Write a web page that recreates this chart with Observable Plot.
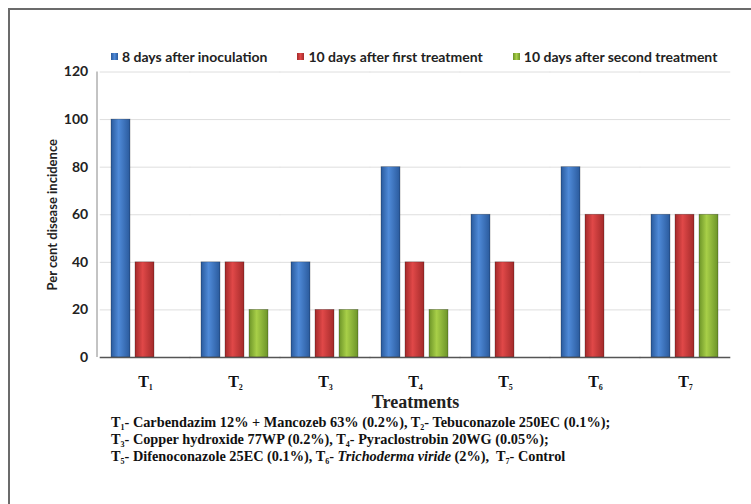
<!DOCTYPE html>
<html>
<head>
<meta charset="utf-8">
<script src="https://cdn.jsdelivr.net/npm/d3@7"></script>
<script src="https://cdn.jsdelivr.net/npm/@observablehq/plot@0.6"></script>
<style>
  body { margin: 0; width: 751px; height: 504px; overflow: hidden; background: #fff; position: relative; }
  #frame { position: absolute; left: 8px; top: 8px; width: 800px; height: 600px; border: 2px solid #6b6b6b; box-sizing: border-box; }
  #legend { position: absolute; left: 111px; top: 48px; display: flex; gap: 30px; font: bold 14px Lato, sans-serif; color: #222; white-space: nowrap; }
  #legend .item { display: flex; align-items: center; }
  #legend .sw { width: 7px; height: 7px; margin-right: 4px; }
  #chart { position: absolute; left: 0; top: 60px; }
  #caption { position: absolute; left: 111px; top: 414px; font: bold 14.3px/17px "Liberation Serif", "Times New Roman", serif; color: #111; white-space: nowrap; }
  #caption sub { font-size: 8px; vertical-align: -3px; line-height: 0; }
</style>
</head>
<body>
<div id="frame"></div>
<div id="legend"></div>
<div id="chart"></div>
<div id="caption"></div>
<script>
// Treatments and the three observation times
const treatments = ["T1", "T2", "T3", "T4", "T5", "T6", "T7"];
const series = [
  "8 days after inoculation",
  "10 days after first treatment",
  "10 days after second treatment"
];

// Per cent disease incidence for each treatment
const afterInoculation = [100, 40, 40, 80, 60, 80, 60];
const afterFirstTreatment = [40, 40, 20, 40, 40, 60, 60];
const afterSecondTreatment = [0, 20, 20, 20, 0, 0, 60];

const yTicks = [0, 20, 40, 60, 80, 100, 120];
const yTitle = "Per cent disease incidence";
const xTitle = "Treatments";

// Treatment key printed under the chart
const captionLines = [
  [["T", "1"], "- Carbendazim 12% + Mancozeb 63% (0.2%), ", ["T", "2"], "- Tebuconazole 250EC (0.1%);"],
  [["T", "3"], "- Copper hydroxide 77WP (0.2%), ", ["T", "4"], "- Pyraclostrobin 20WG (0.05%);"],
  [["T", "5"], "- Difenoconazole 25EC (0.1%), ", ["T", "6"], "- ", {i: "Trichoderma viride"}, " (2%),\u00a0 ", ["T", "7"], "- Control"]
];

// Shaded fills: [edge, centre] per series
const shades = [
  ["#2a5a9c", "#4f8ad8"],
  ["#a32a2a", "#e04848"],
  ["#6c9428", "#a8cf48"]
];
const gradientIds = ["fill-blue", "fill-red", "fill-green"];

const values = [afterInoculation, afterFirstTreatment, afterSecondTreatment];
const rows = treatments.flatMap((t, i) =>
  series.map((s, j) => ({treatment: t, series: s, value: values[j][i]}))
);

const width = 751, marginLeft = 97, marginRight = 18;
const fxPadding = 0.2266;
const halfGap = ((width - marginLeft - marginRight) / treatments.length) * fxPadding / 2;

const plot = Plot.plot({
  width,
  height: 350,
  marginLeft,
  marginRight,
  marginTop: 11.5,
  marginBottom: 53,
  style: {background: "transparent", overflow: "visible"},
  fx: {domain: treatments, paddingInner: fxPadding, paddingOuter: fxPadding / 2},
  x: {domain: series, axis: null, paddingInner: 0.19, paddingOuter: 0},
  y: {domain: [0, 120]},
  color: {domain: series, range: gradientIds.map(id => `url(#${id})`)},
  marks: [
    Plot.gridY(yTicks.slice(1), {stroke: "#dedede", strokeOpacity: 1, insetLeft: -halfGap, insetRight: -halfGap}),
    Plot.barY(rows.filter(d => d.value > 0), {
      fx: "treatment", x: "series", y: "value", fill: "series",
      stroke: "#000", strokeOpacity: 0.35, strokeWidth: 0.7
    }),
    Plot.ruleY([0], {stroke: "#555", strokeWidth: 1.3, insetLeft: -halfGap, insetRight: -halfGap}),
    Plot.axisY(yTicks, {
      tickSize: 0, tickPadding: 12 + halfGap, fontSize: 14, fontWeight: "bold", fontFamily: "Lato", fill: "#222",
      label: yTitle, labelAnchor: "center", labelOffset: 63
    }),
    Plot.axisFx({
      anchor: "bottom",
      tickSize: 0, tickPadding: 18, fontSize: 16, fontWeight: "bold", fontFamily: "Liberation Serif", fill: "#111",
      label: xTitle, labelAnchor: "center", labelOffset: 50
    })
  ]
});

const svg = d3.select(plot);

// Horizontal shading for the columns
const defs = svg.insert("defs", ":first-child");
gradientIds.forEach((id, i) => {
  const g = defs.append("linearGradient").attr("id", id).attr("x1", 0).attr("x2", 1).attr("y1", 0).attr("y2", 0);
  g.append("stop").attr("offset", "0%").attr("stop-color", shades[i][0]);
  g.append("stop").attr("offset", "40%").attr("stop-color", shades[i][1]);
  g.append("stop").attr("offset", "100%").attr("stop-color", shades[i][0]);
});

// Vertical value axis line
const fx = plot.scale("fx"), y = plot.scale("y");
svg.append("line")
  .attr("x1", fx.range[0]).attr("x2", fx.range[0])
  .attr("y1", y.apply(0)).attr("y2", y.apply(120))
  .attr("stroke", "#888").attr("stroke-width", 1);

// Subscripted treatment labels
svg.selectAll('g[aria-label="fx-axis tick label"] text').each(function() {
  const label = this.textContent;
  const t = d3.select(this).text(label[0]);
  t.append("tspan").attr("font-size", 8).attr("dy", 3).text(label.slice(1));
});

// Axis titles
svg.selectAll('g[aria-label="fx-axis label"] text').text(xTitle)
  .attr("font-family", "Liberation Serif").attr("font-size", 18).attr("font-weight", "bold").attr("fill", "#222");
svg.selectAll('g[aria-label="y-axis label"] text').text(yTitle)
  .attr("font-family", "Lato").attr("font-size", 13).attr("font-weight", "bold").attr("fill", "#222");

document.getElementById("chart").append(plot);

// Legend
const legend = d3.select("#legend");
series.forEach((s, i) => {
  const item = legend.append("div").attr("class", "item");
  item.append("div").attr("class", "sw")
    .style("background", `linear-gradient(to right, ${shades[i][0]}, ${shades[i][1]}, ${shades[i][0]})`);
  item.append("span").text(s);
});

// Caption
const caption = d3.select("#caption");
captionLines.forEach(parts => {
  const line = caption.append("div");
  parts.forEach(p => {
    if (Array.isArray(p)) {
      line.append("span").text(p[0]);
      line.append("sub").text(p[1]);
    } else if (typeof p === "object") {
      line.append("i").text(p.i);
    } else {
      line.append("span").text(p);
    }
  });
});
</script>
</body>
</html>
